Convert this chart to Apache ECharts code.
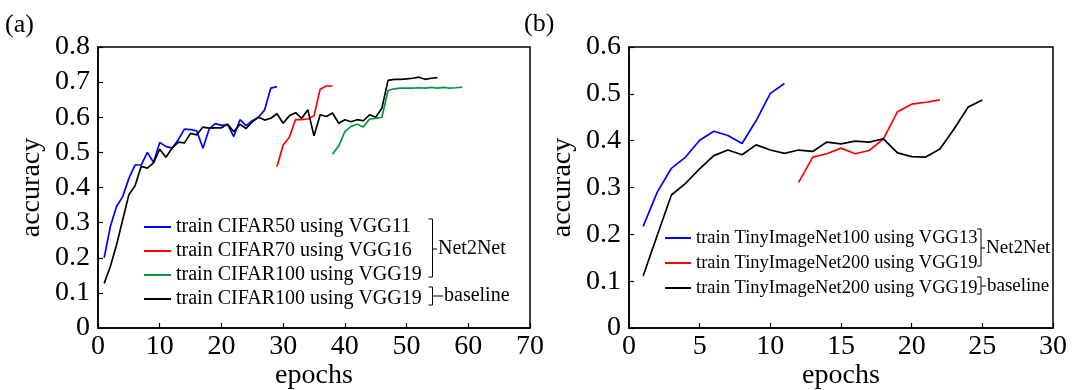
<!DOCTYPE html>
<html>
<head>
<meta charset="utf-8">
<script src="https://cdn.jsdelivr.net/npm/echarts@6/dist/echarts.min.js"></script>
<style>
  html, body { margin: 0; padding: 0; background: #fff; }
  #chart { width: 1073px; height: 390px; }
</style>
</head>
<body>
<div id="chart"></div>
<script>
// (a) CIFAR, values per epoch, first epoch given separately
const cifar50Start = 1
const cifar50Vgg11 = [0.200, 0.289, 0.346, 0.374, 0.426, 0.464, 0.464, 0.500, 0.471, 0.528,
  0.517, 0.512, 0.536, 0.566, 0.565, 0.561, 0.512, 0.566, 0.582, 0.577,
  0.580, 0.545, 0.593, 0.576, 0.590, 0.600, 0.621, 0.683, 0.687]
const cifar70Start = 29
const cifar70Vgg16 = [0.460, 0.521, 0.543, 0.593, 0.593, 0.595, 0.604, 0.680, 0.689, 0.689]
const cifar100Start = 38
const cifar100Vgg19 = [0.495, 0.518, 0.559, 0.574, 0.580, 0.572, 0.595, 0.597, 0.600, 0.676,
  0.681, 0.683, 0.683, 0.683, 0.684, 0.683, 0.685, 0.683, 0.685, 0.683, 0.684, 0.686]
const cifarBaseStart = 1
const cifarBaseline = [0.127, 0.175, 0.236, 0.308, 0.379, 0.405, 0.460, 0.455, 0.470, 0.509,
  0.486, 0.512, 0.529, 0.527, 0.554, 0.550, 0.572, 0.569, 0.570, 0.570,
  0.580, 0.559, 0.580, 0.568, 0.587, 0.600, 0.592, 0.597, 0.610, 0.583,
  0.604, 0.613, 0.597, 0.621, 0.547, 0.607, 0.602, 0.612, 0.583, 0.593,
  0.587, 0.593, 0.590, 0.607, 0.600, 0.626, 0.705, 0.708, 0.708, 0.709,
  0.711, 0.714, 0.708, 0.711, 0.713]

// (b) TinyImageNet
const tiny100Start = 1
const tiny100Vgg13 = [0.217, 0.290, 0.341, 0.365, 0.401, 0.420, 0.411, 0.394, 0.443, 0.501, 0.522]
const tiny200Start = 12
const tiny200Vgg19 = [0.311, 0.365, 0.372, 0.384, 0.372, 0.379, 0.404, 0.462, 0.478, 0.482, 0.487]
const tinyBaseStart = 1
const tinyBaseline = [0.111, 0.198, 0.284, 0.309, 0.340, 0.368, 0.380, 0.370, 0.391, 0.380,
  0.373, 0.380, 0.377, 0.397, 0.393, 0.399, 0.397, 0.404, 0.374, 0.366,
  0.365, 0.382, 0.425, 0.472, 0.487]

const leftLabels = {
  c50: 'train CIFAR50 using VGG11',
  c70: 'train CIFAR70 using VGG16',
  c100: 'train CIFAR100 using VGG19',
  cBase: 'train CIFAR100 using VGG19'
}
const rightLabels = {
  t100: 'train TinyImageNet100 using VGG13',
  t200: 'train TinyImageNet200 using VGG19',
  tBase: 'train TinyImageNet200 using VGG19'
}

const FONT = 'Liberation Serif'

function pairs(start, values) {
  return values.map((v, i) => [start + i, v])
}

function lineSeries(name, color, start, values, idx) {
  return {
    name: name,
    type: 'line',
    xAxisIndex: idx,
    yAxisIndex: idx,
    data: pairs(start, values),
    showSymbol: false,
    symbol: 'none',
    lineStyle: { color: color, width: 1.7 },
    itemStyle: { color: color },
    animation: false
  }
}

function xAxis(idx, max, interval) {
  return {
    type: 'value',
    gridIndex: idx,
    min: 0,
    max: max,
    interval: interval,
    name: 'epochs',
    nameLocation: 'middle',
    nameGap: 34,
    nameMoveOverlap: false,
    nameTextStyle: { fontFamily: FONT, fontSize: 28, color: '#000' },
    axisLine: { lineStyle: { color: '#000', width: 1.5 } },
    axisTick: { inside: true, length: 5, lineStyle: { color: '#000', width: 1.2 } },
    axisLabel: { fontFamily: FONT, fontSize: 28, color: '#000', margin: 5 },
    splitLine: { show: false }
  }
}

function yAxis(idx, max) {
  return {
    type: 'value',
    gridIndex: idx,
    min: 0,
    max: max,
    interval: 0.1,
    name: 'accuracy',
    nameLocation: 'middle',
    nameGap: 52,
    nameMoveOverlap: false,
    nameTextStyle: { fontFamily: FONT, fontSize: 28, color: '#000' },
    axisLine: { lineStyle: { color: '#000', width: 1.5 } },
    axisTick: { inside: true, length: 5, lineStyle: { color: '#000', width: 1.2 } },
    axisLabel: { fontFamily: FONT, fontSize: 28, color: '#000', margin: 8 },
    splitLine: { show: false }
  }
}

function bracket(x, y1, y2, ym, label, tickEnd, fontSize) {
  return [
    {
      type: 'polyline',
      shape: { points: [[x - 4, y1], [x, y1], [x, y2], [x - 4, y2]] },
      style: { stroke: '#000', lineWidth: 1, fill: null }
    },
    {
      type: 'line',
      shape: { x1: x, y1: ym, x2: tickEnd, y2: ym },
      style: { stroke: '#000', lineWidth: 1 }
    },
    {
      type: 'text',
      x: tickEnd + 1,
      y: ym,
      style: { text: label, fontFamily: FONT, fontSize: fontSize, fill: '#000', verticalAlign: 'middle' }
    }
  ]
}

const chart = echarts.init(document.getElementById('chart'))

chart.setOption({
  backgroundColor: '#fff',
  animation: false,
  grid: [
    { left: 98, top: 47, width: 432, height: 281, outerBoundsMode: 'none', show: true, borderColor: '#000', borderWidth: 1.5, backgroundColor: 'transparent' },
    { left: 629, top: 47, width: 424, height: 281, outerBoundsMode: 'none', show: true, borderColor: '#000', borderWidth: 1.5, backgroundColor: 'transparent' }
  ],
  xAxis: [xAxis(0, 70, 10), xAxis(1, 30, 5)],
  yAxis: [yAxis(0, 0.8), yAxis(1, 0.6)],
  legend: [
    {
      orient: 'vertical',
      left: 139,
      top: 212,
      icon: 'rect',
      itemWidth: 27,
      itemHeight: 2,
      itemGap: 4,
      data: Object.keys(leftLabels),
      formatter: n => leftLabels[n],
      textStyle: { fontFamily: FONT, fontSize: 20, lineHeight: 20, color: '#000' }
    },
    {
      orient: 'vertical',
      left: 660,
      top: 223,
      icon: 'rect',
      itemWidth: 26,
      itemHeight: 2,
      itemGap: 5,
      data: Object.keys(rightLabels),
      formatter: n => rightLabels[n],
      textStyle: { fontFamily: FONT, fontSize: 18.5, lineHeight: 20, color: '#000' }
    }
  ],
  series: [
    lineSeries('c50', '#0000ff', cifar50Start, cifar50Vgg11, 0),
    lineSeries('c70', '#ff0000', cifar70Start, cifar70Vgg16, 0),
    lineSeries('cBase', '#000000', cifarBaseStart, cifarBaseline, 0),
    lineSeries('c100', '#009a44', cifar100Start, cifar100Vgg19, 0),
    lineSeries('t100', '#0000ff', tiny100Start, tiny100Vgg13, 1),
    lineSeries('t200', '#ff0000', tiny200Start, tiny200Vgg19, 1),
    lineSeries('tBase', '#000000', tinyBaseStart, tinyBaseline, 1)
  ],
  graphic: [
    { type: 'text', x: 5, y: 12, style: { text: '(a)', fontFamily: FONT, fontSize: 26, fill: '#000' } },
    { type: 'text', x: 524, y: 11, style: { text: '(b)', fontFamily: FONT, fontSize: 26, fill: '#000' } },
    ...bracket(432.5, 219, 277, 249, 'Net2Net', 437, 20),
    ...bracket(432.5, 287, 305, 296, 'baseline', 443, 20),
    ...bracket(981, 229, 266, 248, 'Net2Net', 985, 19),
    ...bracket(981, 277, 294, 286, 'baseline', 986, 19)
  ]
})
</script>
</body>
</html>
